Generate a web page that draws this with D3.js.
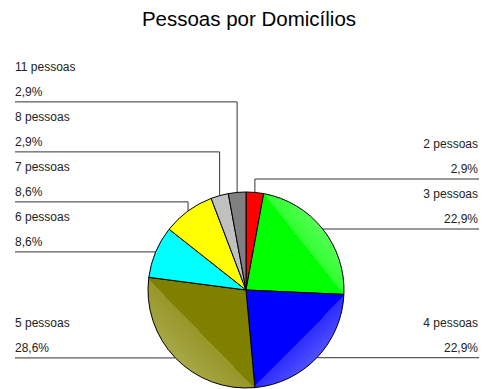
<!DOCTYPE html>
<html>
<head>
<meta charset="utf-8">
<script src="https://cdn.jsdelivr.net/npm/d3@7"></script>
<style>
  html, body { margin: 0; padding: 0; background: #fff; }
  svg { display: block; }
  text { font-family: "Liberation Sans", Arial, sans-serif; }
</style>
</head>
<body>
<div id="chart"></div>
<script>
// Household size distribution
const categories = ["2 pessoas", "3 pessoas", "4 pessoas", "5 pessoas", "6 pessoas", "7 pessoas", "8 pessoas", "11 pessoas"];
const percents   = [2.9, 22.9, 22.9, 28.6, 8.6, 8.6, 2.9, 2.9];
const colors     = ["#ff0000", "#00ff00", "#0000ff", "#808000", "#00ffff", "#ffff00", "#c0c0c0", "#808080"];
// lighter rim tint for the slices that catch the light
const rimTints   = [null, "#55ff55", "#5050ff", "#a8a848", null, null, null, null];
const title = "Pessoas por Domicílios";

const W = 487, H = 389;
const cx = 246, cy = 290, R = 98;

const svg = d3.select("#chart").append("svg")
  .attr("width", W).attr("height", H);

svg.append("text")
  .attr("x", 249).attr("y", 26)
  .attr("text-anchor", "middle")
  .attr("font-size", 20.5)
  .attr("fill", "#000")
  .text(title);

const data = categories.map((c, i) => ({ name: c, value: percents[i], color: colors[i], tint: rimTints[i], i }));

const pie = d3.pie().value(d => d.value).sort(null);
const arcs = pie(data);
const arc = d3.arc().innerRadius(0).outerRadius(R);

// label layout: leader lines start at the rim midpoint of each slice
const fmt = v => v.toFixed(1).replace(".", ",") + "%";
arcs.forEach(a => {
  const mid = (a.startAngle + a.endAngle) / 2;
  a.rimX = cx + R * Math.sin(mid);
  a.rimY = cy - R * Math.cos(mid);
  a.side = Math.sin(mid) >= 0 ? "right" : "left";
});
const gap = 50;
["left", "right"].forEach(side => {
  const group = arcs.filter(a => a.side === side).sort((p, q) => q.rimY - p.rimY);
  let prev = Infinity;
  group.forEach(a => {
    a.lineY = Math.min(a.rimY, prev - gap);
    prev = a.lineY;
  });
});

const leftX = 15, rightX = 479;

// leader lines (drawn below the pie)
const lines = svg.append("g")
  .attr("fill", "none")
  .attr("stroke", "#333")
  .attr("stroke-width", 1);
arcs.forEach(a => {
  const x0 = a.side === "left" ? leftX : rightX;
  lines.append("path")
    .attr("d", d3.line()([[x0, a.lineY], [a.rimX, a.lineY], [a.rimX, a.rimY]]));
});

// gradients for the lit rim area, in the pie group's own coordinates
const defs = svg.append("defs");
const lightDir = {
  1: { nx: 0.78, ny: -0.62, d0: 74 },
  2: { nx: 0.71, ny: 0.70, d0: 74 },
  3: { nx: -0.72, ny: 0.70, d0: 62 }
};
arcs.forEach(a => {
  const L = lightDir[a.data.i];
  if (!L) return;
  const g = defs.append("linearGradient")
    .attr("id", "lit" + a.data.i)
    .attr("gradientUnits", "userSpaceOnUse")
    .attr("x1", L.nx * L.d0).attr("y1", L.ny * L.d0)
    .attr("x2", L.nx * R).attr("y2", L.ny * R);
  g.append("stop").attr("offset", 0).attr("stop-color", a.data.color);
  g.append("stop").attr("offset", 0.001).attr("stop-color", d3.interpolateRgb(a.data.color, a.data.tint)(0.55));
  g.append("stop").attr("offset", 1).attr("stop-color", a.data.tint);
});

const pieG = svg.append("g").attr("transform", `translate(${cx},${cy})`);
pieG.selectAll("path")
  .data(arcs)
  .join("path")
  .attr("d", arc)
  .attr("fill", d => lightDir[d.data.i] ? `url(#lit${d.data.i})` : d.data.color)
  .attr("stroke", "#000")
  .attr("stroke-width", 1);

// labels
const labels = svg.append("g").attr("font-size", 12).attr("fill", "#222");
arcs.forEach(a => {
  const left = a.side === "left";
  const x = left ? leftX : rightX - 1;
  const anchor = left ? "start" : "end";
  labels.append("text")
    .attr("x", x).attr("y", a.lineY - 31)
    .attr("text-anchor", anchor)
    .text(a.data.name);
  labels.append("text")
    .attr("x", x).attr("y", a.lineY - 6)
    .attr("text-anchor", anchor)
    .text(fmt(a.data.value));
});
</script>
</body>
</html>
